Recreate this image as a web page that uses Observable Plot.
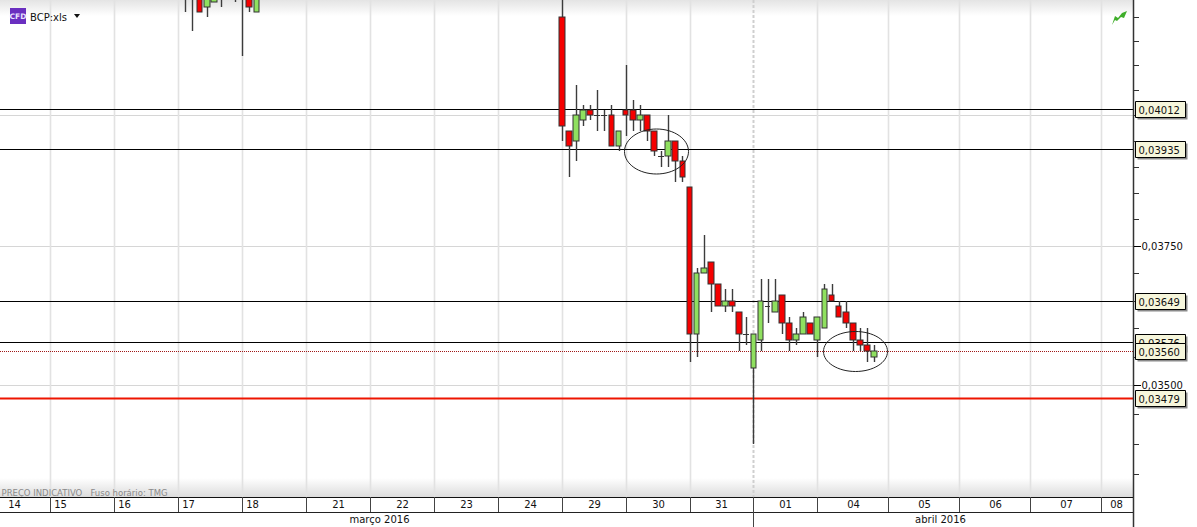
<!DOCTYPE html>
<html><head><meta charset="utf-8">
<script src="https://cdn.jsdelivr.net/npm/d3@7"></script>
<script src="https://cdn.jsdelivr.net/npm/@observablehq/plot@0.6"></script>
<style>
html,body{margin:0;padding:0;background:#fff;overflow:hidden;width:1197px;height:527px}
#chart{position:absolute;left:0;top:0}
.band{position:absolute;left:0;width:1133px}
#overlay{position:absolute;left:0;top:0;font-family:"DejaVu Sans",sans-serif}
</style></head>
<body>
<div class="band" style="top:0;height:16px;background:linear-gradient(#e4e4e4,#fff)"></div>
<div class="band" style="top:478px;height:19px;background:linear-gradient(#fff,#dcdcdc)"></div>
<div id="chart"></div>
<div id="overlay">
<svg width="1197" height="40" style="position:absolute;left:0;top:0">
  <rect x="10" y="8" width="16" height="16" fill="#6a2fc0"/>
  <text x="18" y="19" text-anchor="middle" font-size="7.5" font-weight="bold" fill="#e8e0ff" font-family="DejaVu Sans">CFD</text>
  <text x="30" y="21" font-size="10" fill="#111" font-family="DejaVu Sans">BCP:xls</text>
  <path d="M74 14h6l-3 4z" fill="#111"/>
  <path d="M1112 25l3-9 3 2 4-5 5-2-3 7-3-1-4 4-2-1z" fill="#3fae2a"/>
</svg>
</div>
<script>
// candle index: day slots, 0 = first candle of the session labelled "29"
const idx = [-53,-52,-51,-50,-49,-48,-46,-45,-44,-43,
  0,1,2,3,4,5,6,7,8,9,10,11,12,13,14,15,16,17,18,19,20,21,22,
  23,24,25,26,27,28,29,30,31,32,33,34,35,36,37,38,39,40,41,42,43,44];
const opens = [.0430,.0430,.0430,.0422,.0423,.0430,.0430,.0430,.0430,.0421,
  .0420,.0397,.0395,.0399,.0401,.0400,.0400,.0400,.0394,.0401,.0401,.0399,.0400,.0397,.0392,.0392,.0395,.0391,.0386,.0359,.0370,.0372,.0368,
  .0364,.0365,.0363,.0359,.0353,.0358,.0364,.0363,.0366,.0361,.0358,.0359,.0361,.0358,.0360,.0366,.0364,.0363,.0361,.0358,.0357,.0355];
const highs = [.0430,.0430,.0430,.0430,.0430,.0430,.0430,.0430,.0430,.0430,
  .0424,.0397,.0406,.0402,.0402,.0405,.0401,.0402,.0397,.0410,.0403,.0402,.0400,.0397,.0393,.0400,.0395,.0392,.0386,.0371,.0377,.0372,.0368,
  .0367,.0367,.0363,.0362,.0359,.0369,.0369,.0369,.0366,.0362,.0360,.0363,.0361,.0362,.0368,.0368,.0365,.0365,.0361,.0360,.0360,.0357];
const lows = [.0421,.0417,.0421,.0420,.0423,.0422,.0423,.0412,.0421,.0421,
  .0395,.0388,.0391,.0398,.0399,.0397,.0397,.0394,.0393,.0396,.0397,.0397,.0395,.0392,.0390,.0390,.0387,.0387,.0354,.0355,.0370,.0363,.0364,
  .0363,.0363,.0356,.0357,.0340,.0356,.0361,.0363,.0359,.0356,.0357,.0359,.0359,.0355,.0360,.0365,.0362,.0360,.0356,.0356,.0354,.0354];
const closes = [.0430,.0430,.0421,.0430,.0430,.0430,.0430,.0430,.0422,.0430,
  .0398,.0394,.0400,.0401,.0400,.0400,.0400,.0394,.0397,.0400,.0399,.0400,.0397,.0393,.0392,.0395,.0391,.0388,.0359,.0370,.0371,.0368,.0364,
  .0365,.0364,.0359,.0359,.0359,.0365,.0364,.0365,.0361,.0358,.0359,.0362,.0359,.0362,.0367,.0365,.0362,.0361,.0358,.0357,.0356,.0356];

const flatLevels = [.04012,.03935,.03649,.03576];
const bidLevel = .03560;
const stopLevel = .03479;
const flagLevels = [.04012,.03935,.03649,.03576,.03560,.03479];
const labelledTicks = [.0375,.0350];
const gridTicks = [.0400,.0375,.0350];
const minorTicks = [.0420,.0415,.0410,.0405,.0400,.0395,.0390,.0385,.0380,.0370,.0365,.0360,.0355,.0345,.0340,.0335];

const dayBounds = [-72,-63,-54,-45,-36,-27,-18,-9,0,9,18,36,46,56,66,76];
const monthBound = 27;
const dayLabels = ["14","15","16","17","18","21","22","23","24","29","30","31","01","04","05","06","07","08"];
const dayLabelAt = [-77.1,-70.7,-61.6,-52.6,-43.6,-31.5,-22.5,-13.5,-4.5,4.5,13.5,22.5,31.5,41,51,61,71,78];
const monthLabels = ["março 2016","abril 2016"];
const monthLabelAt = [-25.7,53.3];
const circles = [{i:13.3,p:.03931,rx:32,ry:22.5},{i:41.3,p:.0356,rx:32,ry:20}];

const candles = idx.map((i,k)=>({i,open:opens[k],high:highs[k],low:lows[k],close:closes[k]}));
const bodies = candles.filter(d=>d.open!==d.close);
const dojis = candles.filter(d=>d.open===d.close);
const fmt = d=>d.toFixed(5).replace(".",",");
const xMax = 80.46;
const font = '"DejaVu Sans",sans-serif';

const boxSym = {draw(c){c.moveTo(2,-8);c.lineTo(52,-8);c.lineTo(52,8);c.lineTo(2,8);c.closePath();}};
const ellipseSym = (rx,ry)=>({draw(c){
  const k=.5523;
  c.moveTo(rx,0);
  c.bezierCurveTo(rx,k*ry,k*rx,ry,0,ry);
  c.bezierCurveTo(-k*rx,ry,-rx,k*ry,-rx,0);
  c.bezierCurveTo(-rx,-k*ry,-k*rx,-ry,0,-ry);
  c.bezierCurveTo(k*rx,-ry,rx,-k*ry,rx,0);
  c.closePath();
}});

const plot = Plot.plot({
  width:1197,height:527,marginLeft:0,marginRight:64,marginTop:0,marginBottom:30,
  style:{background:"transparent",fontFamily:font,overflow:"visible"},
  x:{type:"linear",domain:[-79.11,xMax],axis:null,round:true},
  y:{type:"log",domain:[.03312,.04235],round:true},
  marks:[
    Plot.gridY(gridTicks,{stroke:"#d6d6d6",strokeOpacity:1,strokeWidth:1}),
    Plot.ruleX(dayBounds,{x:d=>d,stroke:"#e2e2e2",strokeWidth:1.6}),
    Plot.ruleX([monthBound],{x:d=>d,stroke:"#cfcfcf",strokeWidth:2,strokeDasharray:"3,2"}),
    Plot.ruleY(flatLevels,{y:d=>d,stroke:"#000",strokeWidth:1}),
    Plot.ruleY([bidLevel],{y:d=>d,stroke:"#a01818",strokeWidth:1,strokeDasharray:"1,1"}),
    Plot.ruleY([stopLevel],{y:d=>d,stroke:"#ee1500",strokeWidth:2}),
    Plot.ruleX(candles,{x:"i",y1:"low",y2:"high",stroke:"#3c3c3c",strokeWidth:1.4,clip:true}),
    Plot.rect(bodies,{x1:d=>d.i-.4,x2:d=>d.i+.4,y1:"open",y2:"close",
      fill:d=>d.close>d.open?"#8fe05f":"#f50000",stroke:"#333",strokeWidth:1,clip:true}),
    Plot.ruleY(dojis,{x1:d=>d.i-.4,x2:d=>d.i+.4,y:"close",stroke:"#333",strokeWidth:1,clip:true}),
    ...circles.map(c=>Plot.dot([c],{x:"i",y:"p",symbol:ellipseSym(c.rx,c.ry),fill:"none",stroke:"#222",strokeWidth:1})),
    // axis
    Plot.ruleX([xMax],{x:d=>d,stroke:"#333",strokeWidth:1.5,insetBottom:-30}),
    Plot.axisY(minorTicks,{anchor:"right",tickSize:5,tickFormat:()=>"",stroke:"#333",label:null}),
    Plot.axisY(labelledTicks,{anchor:"right",tickSize:7,tickPadding:1,tickFormat:fmt,fill:"#111",fontSize:10,label:null}),
    ...flagLevels.flatMap(l=>[
      Plot.dot([l],{x:()=>xMax,y:d=>d,dx:2,dy:2,symbol:boxSym,fill:"#8a8a8a",stroke:"none"}),
      Plot.dot([l],{x:()=>xMax,y:d=>d,symbol:boxSym,fill:"#f6f6dc",stroke:"#000",strokeWidth:1}),
      Plot.text([l],{x:()=>xMax,y:d=>d,dx:5,dy:1,text:fmt,textAnchor:"start",fill:"#111",fontSize:10})
    ]),
    // time axis
    Plot.text(["PREÇO INDICATIVO   Fuso horário: TMG"],{frameAnchor:"bottom-left",dx:1,dy:-2,fill:"#8a8a8a",fontSize:8.5,text:d=>d,lineAnchor:"bottom"}),
    Plot.ruleY([0],{y:()=>.03312,stroke:"#111",strokeWidth:1}),
    Plot.ruleY([0],{y:()=>.03312,dy:15,stroke:"#222",strokeWidth:1}),
    Plot.ruleX(dayBounds,{x:d=>d,insetTop:497,insetBottom:-15,stroke:"#444",strokeWidth:1}),
    Plot.ruleX([monthBound],{x:d=>d,insetTop:497,insetBottom:-30,stroke:"#444",strokeWidth:1}),
    Plot.text(dayLabels,{x:(d,k)=>dayLabelAt[k],frameAnchor:"bottom",dy:10,text:d=>d,fill:"#111",fontSize:10}),
    Plot.text(monthLabels,{x:(d,k)=>monthLabelAt[k],frameAnchor:"bottom",dy:25,text:d=>d,fill:"#111",fontSize:10})
  ]
});
document.getElementById("chart").appendChild(plot);
</script>
</body></html>
